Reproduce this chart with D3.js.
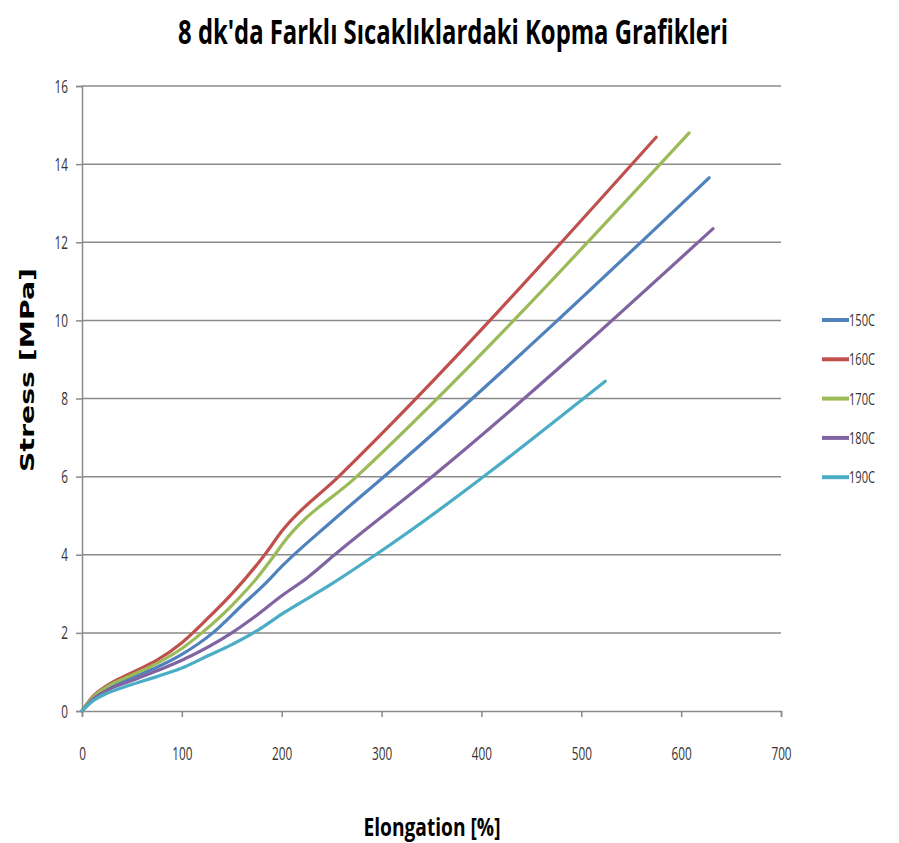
<!DOCTYPE html>
<html><head><meta charset="utf-8">
<script src="https://cdn.jsdelivr.net/npm/d3@7"></script>
<style>body{margin:0;background:#fff}</style>
</head><body>
<svg id="c" width="899" height="843"></svg>
<script>
const seriesNames = ["150C","160C","170C","180C","190C"];
const seriesColors = ["#4F81BD","#C0504D","#9BBB59","#8064A2","#4BACC6"];
const x150 = [0,10,25,50,75,100,131,160,185,200,250,307,628];
const y150 = [0,0.3,0.58,0.85,1.12,1.45,2.0,2.7,3.3,3.7,4.85,6.1,13.65];
const x160 = [0,10,25,50,75,100,125,150,183,200,257,575];
const y160 = [0,0.35,0.65,0.98,1.3,1.75,2.35,3.0,4.0,4.6,6.0,14.69];
const x170 = [0,10,25,50,75,100,120,150,175,193,200,275,608];
const y170 = [0,0.33,0.62,0.92,1.22,1.6,2.0,2.7,3.4,4.0,4.25,6.0,14.8];
const x180 = [0,10,25,50,75,100,150,175,200,225,253,353,632];
const y180 = [0,0.28,0.53,0.78,1.03,1.3,2.0,2.45,2.95,3.4,4.0,6.05,12.35];
const x190 = [0,10,25,50,75,100,125,150,175,200,248,297,524];
const y190 = [0,0.24,0.45,0.68,0.88,1.1,1.4,1.7,2.05,2.48,3.22,4.05,8.44];
const xTicks = [0,100,200,300,400,500,600,700];
const yTicks = [0,2,4,6,8,10,12,14,16];
const title = "8 dk'da  Farklı Sıcaklıklardaki Kopma Grafikleri";
const xTitle = "Elongation [%]";
const yTitle = "Stress [MPa]";

const xs = [x150,x160,x170,x180,x190], ys=[y150,y160,y170,y180,y190];
const series = seriesNames.map((n,i)=>({name:n,color:seriesColors[i],pts:xs[i].map((x,j)=>[x,ys[i][j]])}));

const svg = d3.select("#c");
const L=82,R=781,T=86,B=711;
const x = d3.scaleLinear().domain([0,700]).range([L,R]);
const y = d3.scaleLinear().domain([0,16]).range([B,T]);
const grid="#8a8a8a";
const font="'Open Sans',sans-serif";

function squeeze(sel,f){sel.each(function(){const w=this.getComputedTextLength();this.setAttribute("textLength",w*f);this.setAttribute("lengthAdjust","spacingAndGlyphs");});}

svg.append("g").selectAll("line").data(yTicks.filter(d=>d>0)).join("line")
 .attr("x1",L).attr("x2",R).attr("y1",d=>y(d)).attr("y2",d=>y(d))
 .attr("stroke",grid).attr("stroke-width",1.5);

const ya = svg.append("g").attr("transform",`translate(${L},0)`)
 .call(d3.axisLeft(y).tickValues(yTicks).tickSize(6).tickPadding(8));
ya.select(".domain").attr("stroke",grid).attr("stroke-width",1.5);
ya.selectAll(".tick line").attr("stroke",grid).attr("stroke-width",1.5);
ya.selectAll("text").attr("font-family",font).attr("font-size",19).attr("fill","#333").call(squeeze,0.62);

const xa = svg.append("g").attr("transform",`translate(0,${B})`)
 .call(d3.axisBottom(x).tickValues(xTicks).tickSize(6).tickPadding(30));
xa.select(".domain").attr("stroke",grid).attr("stroke-width",1.5);
xa.selectAll(".tick line").attr("stroke",grid).attr("stroke-width",1.5);
xa.selectAll("text").attr("font-family",font).attr("font-size",19).attr("fill","#333").call(squeeze,0.62);

const line = d3.line().x(d=>x(d[0])).y(d=>y(d[1])).curve(d3.curveMonotoneX);
svg.append("g").selectAll("path").data(series).join("path")
 .attr("d",d=>line(d.pts)).attr("fill","none").attr("stroke",d=>d.color)
 .attr("stroke-width",3.2).attr("stroke-linecap","round").attr("stroke-linejoin","round");

const lg = svg.append("g").selectAll("g").data(series).join("g")
 .attr("transform",(d,i)=>`translate(822,${320+i*39.3})`);
lg.append("line").attr("x1",0).attr("x2",27).attr("stroke",d=>d.color).attr("stroke-width",4);
lg.append("text").attr("x",27).attr("dy","0.36em").text(d=>d.name)
 .attr("font-family",font).attr("font-size",17).attr("fill","#333").call(squeeze,0.65);

function fitText(cx,cy,rot,txt,family,size,width){
  const g = svg.append("g");
  const t = g.append("text").attr("text-anchor","middle").attr("font-family",family)
    .attr("font-weight","bold").attr("font-size",size).text(txt);
  const w = t.node().getComputedTextLength();
  g.attr("transform",`translate(${cx},${cy}) rotate(${rot}) scale(${width/w},1)`);
}
fitText(453,44,0,title,"'Open Sans',sans-serif",34,550);
fitText(432,836,0,xTitle,"'Open Sans',sans-serif",25,137);
fitText(34,370,-90,yTitle,"'DejaVu Sans',sans-serif",19,204);
</script>
</body></html>
